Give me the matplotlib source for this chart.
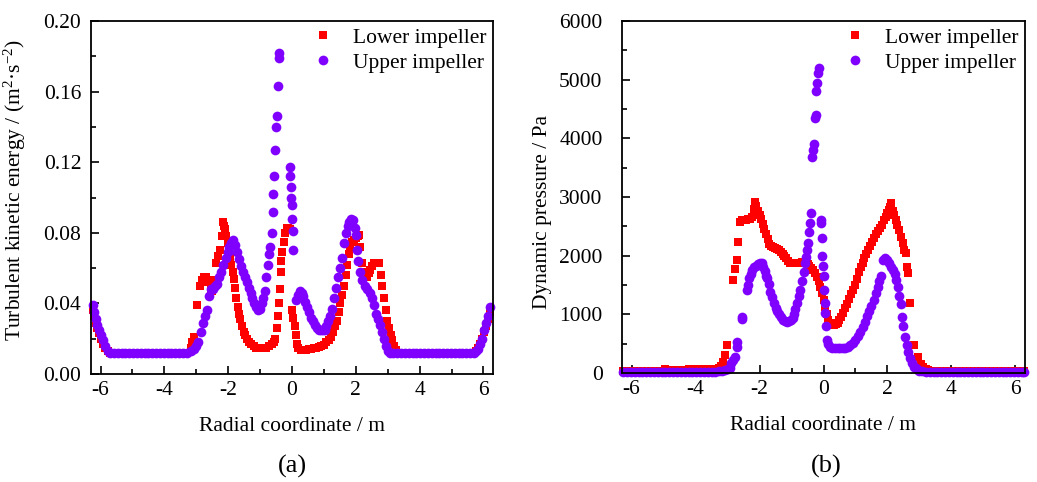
import matplotlib
matplotlib.use("Agg")
import matplotlib.pyplot as plt
from matplotlib.ticker import MultipleLocator, FormatStrFormatter

plt.rcParams['font.family'] = ['Liberation Serif', 'DejaVu Serif']
plt.rcParams['mathtext.fontset'] = 'custom'
plt.rcParams['mathtext.rm'] = 'Liberation Serif'
plt.rcParams['mathtext.it'] = 'Liberation Serif:italic'
plt.rcParams['axes.unicode_minus'] = False

# (a) turbulent kinetic energy, lower impeller
tke_x_lower = [
    -6.25, -6.20, -6.15, -6.10, -6.05, -6.00, -5.93, -5.86, -5.78, -5.70,
    -5.58, -5.46, -5.34, -5.22, -5.10, -4.98, -4.86, -4.74, -4.62, -4.50,
    -4.38, -4.26, -4.14, -4.02, -3.90, -3.78, -3.66, -3.54, -3.42, -3.30,
    -3.18, -3.12, -3.08, -2.98, -2.88, -2.82, -2.76, -2.70, -2.62, -2.55,
    -2.50, -2.44, -2.38, -2.32, -2.26, -2.20, -2.17, -2.13, -2.10, -2.06,
    -2.02, -1.98, -1.94, -1.90, -1.86, -1.82, -1.78, -1.74, -1.70, -1.66,
    -1.62, -1.57, -1.52, -1.47, -1.41, -1.35, -1.28, -1.20, -1.12, -1.04,
    -0.96, -0.88, -0.80, -0.72, -0.64, -0.57, -0.52, -0.47, -0.43, -0.40,
    -0.38, -0.36, -0.33, -0.30, -0.26, -0.22, -0.17, -0.11, -0.06, 0.00,
    0.04, 0.08, 0.12, 0.16, 0.20, 0.28, 0.36, 0.44, 0.52, 0.60,
    0.68, 0.76, 0.84, 0.92, 1.00, 1.08, 1.16, 1.22, 1.28, 1.34,
    1.40, 1.46, 1.52, 1.57, 1.62, 1.68, 1.73, 1.78, 1.83, 1.88,
    1.94, 2.00, 2.06, 2.10, 2.14, 2.18, 2.22, 2.28, 2.34, 2.40,
    2.46, 2.52, 2.58, 2.66, 2.73, 2.78, 2.83, 2.88, 2.94, 2.99,
    3.04, 3.09, 3.14, 3.20, 3.26, 3.32, 3.42, 3.54, 3.66, 3.78,
    3.90, 4.02, 4.14, 4.26, 4.38, 4.50, 4.62, 4.74, 4.86, 4.98,
    5.10, 5.22, 5.34, 5.46, 5.58, 5.70, 5.76, 5.82, 5.88, 5.95,
    6.02, 6.08, 6.15, 6.22]
tke_lower = [
    0.036, 0.033, 0.029, 0.026, 0.023, 0.020, 0.017, 0.015, 0.013, 0.012,
    0.012, 0.012, 0.012, 0.012, 0.012, 0.012, 0.012, 0.012, 0.012, 0.012,
    0.012, 0.012, 0.012, 0.012, 0.012, 0.012, 0.012, 0.012, 0.012, 0.012,
    0.015, 0.018, 0.021, 0.039, 0.050, 0.053, 0.055, 0.055, 0.052, 0.048,
    0.047, 0.053, 0.063, 0.067, 0.070, 0.078, 0.086, 0.084, 0.082, 0.078,
    0.074, 0.070, 0.066, 0.062, 0.058, 0.054, 0.049, 0.043, 0.038, 0.034,
    0.031, 0.027, 0.024, 0.022, 0.020, 0.018, 0.017, 0.016, 0.015, 0.015,
    0.015, 0.015, 0.015, 0.016, 0.017, 0.018, 0.020, 0.026, 0.033, 0.040,
    0.048, 0.058, 0.064, 0.069, 0.075, 0.080, 0.083, 0.083, 0.082, 0.036,
    0.032, 0.027, 0.022, 0.017, 0.0145, 0.0135, 0.0135, 0.0135, 0.014, 0.014,
    0.0145, 0.015, 0.0155, 0.016, 0.0165, 0.018, 0.019, 0.021, 0.024, 0.027,
    0.030, 0.035, 0.040, 0.045, 0.050, 0.056, 0.062, 0.068, 0.072, 0.075,
    0.076, 0.077, 0.078, 0.079, 0.072, 0.063, 0.058, 0.056, 0.055, 0.057,
    0.059, 0.061, 0.063, 0.063, 0.063, 0.056, 0.050, 0.043, 0.036, 0.030,
    0.026, 0.022, 0.019, 0.016, 0.0135, 0.012, 0.012, 0.012, 0.012, 0.012,
    0.012, 0.012, 0.012, 0.012, 0.012, 0.012, 0.012, 0.012, 0.012, 0.012,
    0.012, 0.012, 0.012, 0.012, 0.012, 0.012, 0.013, 0.015, 0.017, 0.020,
    0.024, 0.027, 0.031, 0.035]

# (a) turbulent kinetic energy, upper impeller
tke_x_upper = [
    -6.25, -6.20, -6.15, -6.10, -6.05, -6.00, -5.93, -5.86, -5.78, -5.70,
    -5.58, -5.46, -5.34, -5.22, -5.10, -4.98, -4.86, -4.74, -4.62, -4.50,
    -4.38, -4.26, -4.14, -4.02, -3.90, -3.78, -3.66, -3.54, -3.42, -3.30,
    -3.18, -3.08, -3.00, -2.94, -2.86, -2.78, -2.72, -2.66, -2.60, -2.55,
    -2.48, -2.42, -2.35, -2.28, -2.22, -2.15, -2.08, -2.02, -1.96, -1.90,
    -1.84, -1.78, -1.72, -1.66, -1.60, -1.54, -1.48, -1.42, -1.36, -1.30,
    -1.24, -1.18, -1.12, -1.06, -1.00, -0.95, -0.90, -0.85, -0.80, -0.76,
    -0.72, -0.68, -0.64, -0.60, -0.58, -0.56, -0.53, -0.50, -0.48, -0.45,
    -0.42, -0.41, -0.06, -0.05, -0.04, -0.02, 0.00, 0.01, 0.02, 0.04,
    0.12, 0.18, 0.24, 0.30, 0.36, 0.42, 0.48, 0.54, 0.60, 0.66,
    0.72, 0.78, 0.84, 0.90, 0.96, 1.02, 1.08, 1.14, 1.20, 1.26,
    1.32, 1.38, 1.44, 1.50, 1.56, 1.62, 1.68, 1.74, 1.80, 1.86,
    1.92, 1.96, 2.00, 2.04, 2.08, 2.14, 2.20, 2.28, 2.36, 2.44,
    2.52, 2.58, 2.64, 2.70, 2.76, 2.82, 2.88, 2.94, 3.00, 3.06,
    3.18, 3.30, 3.42, 3.54, 3.66, 3.78, 3.90, 4.02, 4.14, 4.26,
    4.38, 4.50, 4.62, 4.74, 4.86, 4.98, 5.10, 5.22, 5.34, 5.46,
    5.58, 5.70, 5.78, 5.84, 5.90, 5.96, 6.02, 6.08, 6.14, 6.20]
tke_upper = [
    0.039, 0.035, 0.031, 0.028, 0.025, 0.022, 0.019, 0.016, 0.013, 0.012,
    0.012, 0.012, 0.012, 0.012, 0.012, 0.012, 0.012, 0.012, 0.012, 0.012,
    0.012, 0.012, 0.012, 0.012, 0.012, 0.012, 0.012, 0.012, 0.012, 0.012,
    0.013, 0.014, 0.016, 0.018, 0.024, 0.029, 0.033, 0.036, 0.044, 0.048,
    0.048, 0.050, 0.051, 0.055, 0.058, 0.062, 0.066, 0.069, 0.072, 0.074,
    0.076, 0.073, 0.069, 0.065, 0.061, 0.058, 0.055, 0.052, 0.049, 0.046,
    0.043, 0.040, 0.038, 0.036, 0.037, 0.040, 0.043, 0.047, 0.055, 0.062,
    0.068, 0.072, 0.080, 0.092, 0.102, 0.112, 0.127, 0.140, 0.146, 0.163,
    0.179, 0.182, 0.117, 0.112, 0.106, 0.100, 0.096, 0.088, 0.081, 0.070,
    0.042, 0.045, 0.047, 0.046, 0.044, 0.041, 0.038, 0.035, 0.032, 0.030,
    0.028, 0.026, 0.025, 0.025, 0.025, 0.025, 0.027, 0.030, 0.033, 0.037,
    0.043, 0.049, 0.055, 0.060, 0.066, 0.074, 0.080, 0.084, 0.086, 0.088,
    0.087, 0.083, 0.079, 0.070, 0.064, 0.058, 0.053, 0.050, 0.048, 0.046,
    0.043, 0.039, 0.034, 0.031, 0.028, 0.024, 0.020, 0.016, 0.013, 0.012,
    0.012, 0.012, 0.012, 0.012, 0.012, 0.012, 0.012, 0.012, 0.012, 0.012,
    0.012, 0.012, 0.012, 0.012, 0.012, 0.012, 0.012, 0.012, 0.012, 0.012,
    0.012, 0.012, 0.013, 0.014, 0.017, 0.020, 0.025, 0.029, 0.033, 0.038]

# (b) dynamic pressure, lower impeller
p_x_lower = [
    -6.26, -6.14, -6.02, -5.90, -5.78, -5.66, -5.54, -5.42, -5.30, -5.18,
    -5.06, -4.94, -4.82, -4.70, -4.58, -4.46, -4.34, -4.22, -4.10, -3.98,
    -3.86, -3.74, -3.62, -3.50, -3.38, -3.26, -3.20, -3.13, -3.07, -3.02,
    -2.82, -2.76, -2.71, -2.66, -2.60, -2.54, -2.48, -2.42, -2.36, -2.30,
    -2.24, -2.18, -2.14, -2.10, -2.05, -2.00, -1.95, -1.90, -1.85, -1.80,
    -1.75, -1.70, -1.64, -1.58, -1.52, -1.46, -1.40, -1.34, -1.28, -1.22,
    -1.16, -1.10, -1.04, -0.98, -0.92, -0.86, -0.80, -0.74, -0.68, -0.62,
    -0.56, -0.50, -0.44, -0.38, -0.32, -0.26, -0.20, -0.15, -0.10, -0.05,
    0.00, 0.05, 0.10, 0.15, 0.20, 0.26, 0.32, 0.38, 0.44, 0.50,
    0.56, 0.62, 0.68, 0.74, 0.80, 0.86, 0.92, 0.98, 1.04, 1.10,
    1.16, 1.22, 1.28, 1.34, 1.40, 1.46, 1.52, 1.58, 1.64, 1.70,
    1.76, 1.82, 1.88, 1.94, 1.99, 2.04, 2.08, 2.12, 2.16, 2.21,
    2.26, 2.31, 2.36, 2.42, 2.47, 2.52, 2.57, 2.62, 2.64, 2.70,
    2.83, 2.94, 3.04, 3.12, 3.20, 3.28, 3.40, 3.52, 3.64, 3.76,
    3.88, 4.00, 4.12, 4.24, 4.36, 4.48, 4.60, 4.72, 4.84, 4.96,
    5.08, 5.20, 5.32, 5.44, 5.56, 5.68, 5.80, 5.92, 6.04, 6.16,
    6.28]
p_lower = [
    40, 40, 40, 40, 40, 40, 40, 40, 40, 40,
    40, 60, 40, 50, 50, 50, 50, 60, 70, 60,
    60, 60, 70, 70, 70, 80, 120, 180, 300, 470,
    1590, 1780, 1930, 2240, 2570, 2600, 2600, 2610, 2620, 2630,
    2660, 2800, 2920, 2850, 2760, 2690, 2620, 2540, 2450, 2370,
    2280, 2200, 2160, 2150, 2130, 2110, 2090, 2060, 2030, 2000,
    1960, 1910, 1870, 1870, 1870, 1870, 1875, 1880, 1890, 1900,
    1880, 1850, 1820, 1790, 1750, 1700, 1630, 1560, 1460, 1365,
    1250, 1130, 1000, 900, 860, 830, 820, 830, 860, 900,
    960, 1030, 1100, 1180, 1260, 1340, 1410, 1500, 1610, 1720,
    1800, 1880, 1960, 2030, 2100, 2170, 2240, 2300, 2370, 2420,
    2470, 2530, 2600, 2660, 2720, 2780, 2830, 2890, 2760, 2700,
    2600, 2530, 2430, 2320, 2215, 2100, 2045, 1815, 1700, 1190,
    480, 280, 150, 100, 70, 55, 40, 40, 40, 40,
    40, 40, 40, 40, 40, 40, 40, 40, 40, 40,
    30, 30, 30, 30, 30, 30, 30, 30, 30, 30,
    30]

# (b) dynamic pressure, upper impeller
p_x_upper = [
    -6.26, -6.14, -6.02, -5.90, -5.78, -5.66, -5.54, -5.42, -5.30, -5.18,
    -5.06, -4.94, -4.82, -4.70, -4.58, -4.46, -4.34, -4.22, -4.10, -3.98,
    -3.86, -3.74, -3.62, -3.50, -3.38, -3.26, -3.16, -3.08, -3.00, -2.93,
    -2.88, -2.82, -2.77, -2.72, -2.70, -2.56, -2.54, -2.40, -2.36, -2.32,
    -2.28, -2.22, -2.16, -2.10, -2.04, -1.98, -1.93, -1.88, -1.84, -1.80,
    -1.76, -1.70, -1.66, -1.62, -1.56, -1.50, -1.44, -1.38, -1.32, -1.26,
    -1.20, -1.14, -1.08, -1.02, -0.96, -0.92, -0.88, -0.83, -0.78, -0.72,
    -0.67, -0.62, -0.58, -0.55, -0.52, -0.49, -0.46, -0.43, -0.40, -0.37,
    -0.34, -0.31, -0.28, -0.25, -0.22, -0.19, -0.16, -0.14, -0.08, -0.07,
    -0.06, -0.04, -0.02, 0.00, 0.02, 0.04, 0.06, 0.08, 0.10, 0.14,
    0.20, 0.28, 0.36, 0.44, 0.52, 0.60, 0.68, 0.76, 0.84, 0.92,
    1.00, 1.08, 1.15, 1.22, 1.29, 1.36, 1.43, 1.50, 1.57, 1.63,
    1.69, 1.75, 1.80, 1.86, 1.92, 1.98, 2.04, 2.10, 2.16, 2.22,
    2.27, 2.32, 2.37, 2.42, 2.46, 2.50, 2.55, 2.60, 2.65, 2.70,
    2.76, 2.82, 2.88, 2.94, 3.00, 3.08, 3.20, 3.32, 3.44, 3.56,
    3.68, 3.80, 3.92, 4.04, 4.16, 4.28, 4.40, 4.52, 4.64, 4.76,
    4.88, 5.00, 5.12, 5.24, 5.36, 5.48, 5.60, 5.72, 5.84, 5.96,
    6.08, 6.20, 6.28]
p_upper = [
    20, 20, 20, 20, 20, 20, 20, 20, 20, 20,
    20, 20, 20, 20, 20, 20, 20, 20, 20, 20,
    20, 20, 20, 20, 25, 30, 40, 50, 65, 90,
    170, 230, 280, 450, 520, 920, 960, 1420, 1500, 1620,
    1680, 1760, 1800, 1830, 1860, 1880, 1870, 1800, 1740, 1660,
    1620, 1520, 1380, 1300, 1190, 1110, 1050, 1000, 950, 910,
    880, 870, 880, 900, 940, 1000, 1090, 1200, 1310, 1420,
    1560, 1730, 1880, 1980, 2100, 2220, 2400, 2560, 2720, 3690,
    3800, 3900, 4350, 4400, 4800, 4950, 5120, 5200, 2600, 2550,
    2300, 2000, 1830, 1650, 1420, 1200, 1020, 800, 570, 500,
    450, 430, 420, 420, 430, 420, 430, 450, 480, 510,
    570, 630, 700, 780, 870, 970, 1060, 1150, 1250, 1360,
    1460, 1560, 1650, 1930, 1960, 1930, 1870, 1810, 1760, 1680,
    1580, 1460, 1320, 1180, 960, 800, 620, 470, 350, 250,
    170, 110, 80, 55, 40, 30, 20, 20, 20, 20,
    20, 20, 20, 20, 20, 20, 20, 20, 20, 20,
    20, 20, 20, 20, 20, 20, 20, 20, 20, 20,
    20, 20, 20]

red = '#FF0000'
violet = '#8000FF'
fs = 15.5

fig = plt.figure(figsize=(10.37, 4.82), dpi=100)
ax1 = fig.add_axes([91 / 1037, 108 / 482, 402 / 1037, 353 / 482])
ax2 = fig.add_axes([622 / 1037, 109 / 482, 403 / 1037, 352 / 482])

for ax in (ax1, ax2):
    ax.set_xlim(-6.3, 6.3)
    ax.xaxis.set_major_locator(MultipleLocator(2))
    ax.xaxis.set_minor_locator(MultipleLocator(1))
    ax.tick_params(which='both', direction='in', top=False, right=False,
                   width=1.2, labelsize=fs)
    ax.tick_params(which='major', length=6)
    ax.tick_params(which='minor', length=3.5)
    ax.tick_params(axis='x', pad=5)
    for s in ax.spines.values():
        s.set_linewidth(1.3)

ax1.plot(tke_x_lower, tke_lower, 's', color=red, ms=5.6, mew=0,
         label='Lower impeller', clip_on=False)
ax1.plot(tke_x_upper, tke_upper, 'o', color=violet, ms=7, mew=0,
         label='Upper impeller', clip_on=False)
ax1.set_ylim(0, 0.20)
ax1.yaxis.set_major_locator(MultipleLocator(0.04))
ax1.yaxis.set_minor_locator(MultipleLocator(0.02))
ax1.yaxis.set_major_formatter(FormatStrFormatter('%.2f'))
ax1.tick_params(axis='y', pad=7)
ax1.set_xlabel('Radial coordinate / m', fontsize=fs, labelpad=12)
ax1.set_ylabel('Turbulent kinetic energy / (m$^{2}$·s$^{-2}$)', fontsize=fs)
ax1.yaxis.set_label_coords(-0.157, 0.52)

ax2.plot(p_x_lower, p_lower, 's', color=red, ms=5.6, mew=0,
         label='Lower impeller', clip_on=False)
ax2.plot(p_x_upper, p_upper, 'o', color=violet, ms=7, mew=0,
         label='Upper impeller', clip_on=False)
ax2.set_ylim(0, 6000)
ax2.yaxis.set_major_locator(MultipleLocator(1000))
ax2.yaxis.set_minor_locator(MultipleLocator(500))
ax2.tick_params(axis='y', pad=14)
ax2.set_xlabel('Radial coordinate / m', fontsize=fs, labelpad=12)
ax2.set_ylabel('Dynamic pressure / Pa', fontsize=fs)
ax2.yaxis.set_label_coords(-0.174, 0.457)

for ax in (ax1, ax2):
    ax.legend(loc='upper right', bbox_to_anchor=(1.0, 1.0), frameon=False,
              fontsize=fs, handlelength=1.0, handletextpad=0.9,
              labelspacing=0.25, borderaxespad=0.0, borderpad=0.3)

fig.text(292 / 1037, 1 - 466 / 482, '(a)', fontsize=19, ha='center', va='center')
fig.text(826 / 1037, 1 - 466 / 482, '(b)', fontsize=19, ha='center', va='center')

fig.savefig('out.png', dpi=100)
